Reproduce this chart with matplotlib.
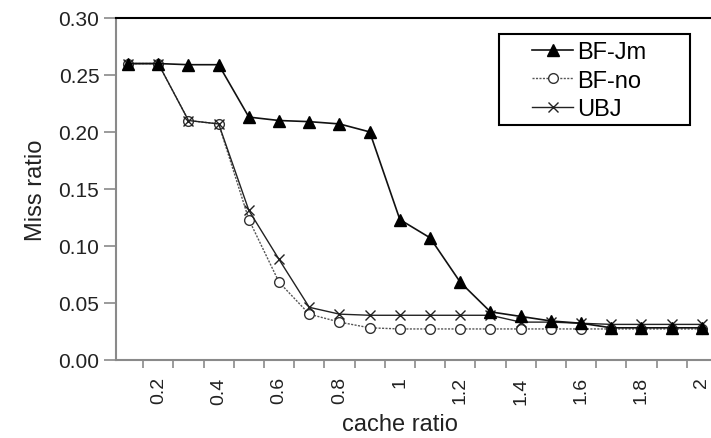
import matplotlib
matplotlib.use("Agg")
import matplotlib.pyplot as plt
from matplotlib.patches import Rectangle
import numpy as np

plt.rcParams['font.family'] = ['Liberation Sans', 'DejaVu Sans']

cache_ratio = [0.1, 0.2, 0.3, 0.4, 0.5, 0.6, 0.7, 0.8, 0.9, 1.0,
               1.1, 1.2, 1.3, 1.4, 1.5, 1.6, 1.7, 1.8, 1.9, 2.0]
bf_jm = [0.260, 0.260, 0.259, 0.259, 0.213, 0.210, 0.209, 0.207, 0.200, 0.123,
         0.107, 0.068, 0.042, 0.038, 0.034, 0.032, 0.028, 0.028, 0.028, 0.028]
bf_no = [0.260, 0.260, 0.210, 0.207, 0.123, 0.068, 0.040, 0.033, 0.028, 0.027,
         0.027, 0.027, 0.027, 0.027, 0.027, 0.027, 0.027, 0.027, 0.027, 0.027]
ubj = [0.260, 0.260, 0.210, 0.207, 0.131, 0.088, 0.046, 0.040, 0.039, 0.039,
       0.039, 0.039, 0.039, 0.033, 0.033, 0.032, 0.031, 0.031, 0.031, 0.031]
x_labels = ['0.2', '0.4', '0.6', '0.8', '1', '1.2', '1.4', '1.6', '1.8', '2']
x_label_pos = [0.2, 0.4, 0.6, 0.8, 1.0, 1.2, 1.4, 1.6, 1.8, 2.0]
y_ticks = [0.00, 0.05, 0.10, 0.15, 0.20, 0.25, 0.30]

W, H = 711, 439
fig = plt.figure(figsize=(W/100, H/100), dpi=100)
ax = fig.add_axes([116/W, (H-360.7)/H, (720-116)/W, (360.7-19)/H])

ax.plot(cache_ratio, ubj, color='#222222', lw=1.0, marker='x', ms=7, mew=1.0,
        label='UBJ', zorder=3)
ax.plot(cache_ratio, bf_no, color='#555555', lw=1.0, ls=(0, (1.5, 1)), marker='o', ms=7,
        mfc='white', mec='#333333', mew=1.0, label='BF-no', zorder=2)
ax.plot(cache_ratio, bf_jm, color='#111111', lw=1.2, marker='^', ms=8,
        mfc='black', mec='black', label='BF-Jm', zorder=4)

ax.set_xlim(0.06, 2.06)
ax.set_ylim(0, 0.30)

ax.spines['right'].set_visible(False)
ax.spines['top'].set_color('black')
ax.spines['top'].set_linewidth(1.5)
for s in ('left', 'bottom'):
    ax.spines[s].set_color('#8a8a8a')
    ax.spines[s].set_linewidth(1.5)

ax.set_yticks(y_ticks)
ax.set_yticklabels(['%.2f' % v for v in y_ticks])
ax.tick_params(axis='y', length=9, width=1.2, color='#8a8a8a', labelsize=15,
               labelcolor='#222222', pad=3)

ax.set_xticks(x_label_pos)
ax.set_xticklabels(x_labels, rotation=90)
ax.set_xticks(np.arange(0.15, 2.0, 0.1), minor=True)
ax.tick_params(axis='x', which='major', length=0, labelsize=14, labelcolor='#222222', pad=12)
ax.tick_params(axis='x', which='minor', length=6, width=1.2, color='#8a8a8a')

ax.set_xlabel('cache ratio', fontsize=17, color='#222222')
ax.xaxis.set_label_coords((400-116)/604, -(425-360.7)/(360.7-19))
ax.xaxis.label.set_va('center')
ax.set_ylabel('Miss ratio', fontsize=17, color='#222222', labelpad=8)

# legend frame
fig.patches.append(Rectangle((499/W, (H-126)/H), (690-499)/W, (126-35)/H,
                             transform=fig.transFigure, fill=True, facecolor='white',
                             edgecolor='black', lw=1.5, zorder=5))

handles, labels = ax.get_legend_handles_labels()
order = [2, 1, 0]
leg = fig.legend([handles[i] for i in order], [labels[i] for i in order],
                 loc='upper left', bbox_to_anchor=(532/W, (H-42)/H),
                 fontsize=17, frameon=False, handlelength=1.75,
                 handletextpad=0.15, borderpad=0, labelspacing=0.28,
                 borderaxespad=0)
leg.set_zorder(6)

fig.savefig('out.png', dpi=100)
